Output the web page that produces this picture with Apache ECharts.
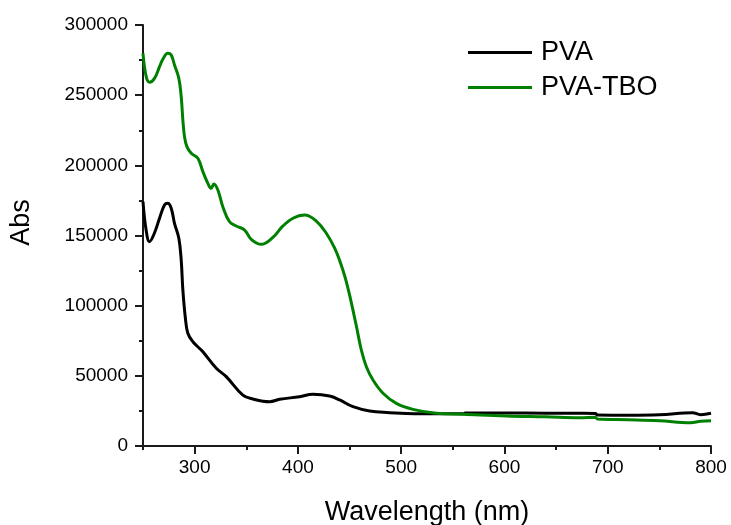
<!DOCTYPE html>
<html>
<head>
    <meta charset="utf-8">
    <title>PVA / PVA-TBO</title>
    <script src="https://cdn.jsdelivr.net/npm/echarts@6/dist/echarts.min.js"></script>
    <style type="text/css">
        * { margin: 0; padding: 0; }
        body { background: #fff; overflow: hidden; }
        #main { width: 731px; height: 525px; }
    </style>
</head>
<body>
<div id="main"></div>
<script type="text/javascript">
    // wavelength (nm) and absorbance
    var pvaX = [250, 253, 256.3, 261, 266, 270.8, 274, 277.3, 280.5, 284.7, 287, 288.6, 290.9, 293.4, 298.3, 306.4,
        308, 321, 330.6, 346.7, 356.4, 372.6, 382.3, 401.6, 414.5, 430.7, 440.4, 453.3, 469.5, 488.9, 500,
        534, 561, 562, 600, 640, 673, 688, 690, 720, 750, 782, 790, 800];
    var pvaY = [174100, 153900, 145600, 151600, 162300, 171700, 172900, 169400, 158700, 148000, 132500, 111200, 92100, 80300, 74300, 68400,
        67200, 55400, 49400, 36300, 33500, 31600, 33300, 35100, 36800, 35600, 32800, 28000, 24900, 23700, 23300,
        22900, 23000, 23600, 23500, 23400, 23300, 23100, 22100, 21900, 22200, 23700, 22300, 23300];

    var tboX = [250, 253.1, 256.3, 261.1, 266, 269.2, 274, 277.3, 280.5, 284.7, 287, 288.6, 290.2, 292.5, 296.7, 303.1,
        308, 312.8, 316, 318.6, 322.5, 327.3, 333.8, 340.3, 348.4, 354.8, 364.5, 375.8, 385.5, 395.2, 406.5, 417.8,
        427.5, 435.6, 441, 446, 451, 456.6, 461.4, 466.3, 472.7, 482.4, 495.3, 511.4, 534, 559.9, 602, 640, 673, 688, 690,
        720, 750, 780, 790, 800];
    var tboY = [279800, 263200, 259200, 262000, 270300, 275600, 279800, 278600, 271500, 262000, 248900, 232300, 220400, 213300, 208600, 205000,
        195500, 187200, 183600, 186700, 182400, 170500, 159800, 156800, 153900, 147300, 143700, 148700, 156800, 162300, 164600, 160300,
        151600, 141000, 131000, 119500, 104500, 85500, 68400, 56500, 47000, 37600, 30400, 26100, 23300, 22600, 21400, 20800, 20200, 20500, 19200,
        18700, 18000, 16600, 17600, 18000];

    var xMajor = [300, 400, 500, 600, 700, 800];
    var xMinor = [250, 350, 450, 550, 650, 750];

    function pairs(xs, ys) {
        var out = [];
        for (var i = 0; i < xs.length; i++) {
            out.push([xs[i], ys[i]]);
        }
        return out;
    }

    var fontName = 'Liberation Sans, Arial, sans-serif';
    var axisColor = '#1a1a1a';

    var myChart = echarts.init(document.getElementById('main'));
    var option = {
        animation: false,
        grid: {
            left: 143,
            right: 20,
            top: 25,
            bottom: 79,
            containLabel: false,
            outerBoundsMode: 'none'
        },
        legend: {
            data: ['PVA', 'PVA-TBO'],
            orient: 'vertical',
            left: 463,
            top: 34,
            icon: 'rect',
            itemWidth: 64,
            itemHeight: 3,
            itemGap: 8,
            selectedMode: false,
            textStyle: {
                fontFamily: fontName,
                fontSize: 27,
                lineHeight: 27,
                color: '#000',
                padding: [0, 0, 0, 4]
            }
        },
        xAxis: [{
            type: 'value',
            min: 250,
            max: 800,
            interval: 50,
            name: 'Wavelength (nm)',
            nameLocation: 'middle',
            nameGap: 53,
            nameTextStyle: {
                fontFamily: fontName,
                fontSize: 27,
                color: '#000'
            },
            axisLine: { lineStyle: { color: axisColor, width: 2 } },
            axisTick: {
                show: true,
                length: 8,
                customValues: xMajor,
                lineStyle: { color: axisColor, width: 2 }
            },
            axisLabel: {
                customValues: xMajor,
                margin: 12,
                fontFamily: fontName,
                fontSize: 19,
                color: '#000'
            },
            splitLine: { show: false }
        }, {
            type: 'value',
            min: 250,
            max: 800,
            interval: 50,
            position: 'bottom',
            axisLine: { show: false },
            axisTick: {
                show: true,
                length: 4,
                customValues: xMinor,
                lineStyle: { color: axisColor, width: 2 }
            },
            axisLabel: { show: false },
            splitLine: { show: false }
        }],
        yAxis: {
            type: 'value',
            min: 0,
            max: 300000,
            interval: 50000,
            name: 'Abs',
            nameLocation: 'middle',
            nameRotate: 90,
            nameGap: 108,
            nameTextStyle: {
                fontFamily: fontName,
                fontSize: 27,
                color: '#000',
                padding: [0, 0, 0, 26]
            },
            axisLine: { show: true, lineStyle: { color: axisColor, width: 2 } },
            axisTick: {
                show: true,
                length: 8,
                lineStyle: { color: axisColor, width: 2 }
            },
            minorTick: {
                show: true,
                splitNumber: 2,
                length: 4,
                lineStyle: { color: axisColor, width: 2 }
            },
            axisLabel: {
                margin: 15,
                fontFamily: fontName,
                fontSize: 19,
                color: '#000',
                formatter: function (v) {
                    return String(v);
                }
            },
            splitLine: { show: false }
        },
        series: [{
            name: 'PVA',
            type: 'line',
            symbol: 'none',
            smooth: 0.4,
            lineStyle: { color: '#000000', width: 3 },
            itemStyle: { color: '#000000' },
            data: pairs(pvaX, pvaY)
        }, {
            name: 'PVA-TBO',
            type: 'line',
            symbol: 'none',
            smooth: 0.4,
            lineStyle: { color: '#008000', width: 3 },
            itemStyle: { color: '#008000' },
            data: pairs(tboX, tboY)
        }]
    };
    myChart.setOption(option);
</script>
</body>
</html>
